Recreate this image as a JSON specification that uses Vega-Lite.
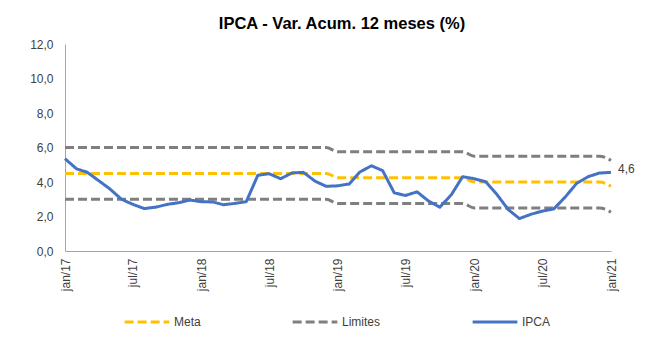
{
  "$schema": "https://vega.github.io/schema/vega-lite/v6.json",
  "width": 546,
  "height": 207,
  "autosize": {"type": "none"},
  "padding": {"left": 65, "top": 44, "right": 43, "bottom": 102},
  "background": "white",
  "config": {
    "locale": {"number": {"decimal": ",", "thousands": ".", "grouping": [3], "currency": ["R$", ""]}},
    "view": {"stroke": null},
    "font": "Liberation Sans",
    "axis": {"labelFont": "Liberation Sans", "labelColor": "#404040", "domainColor": "#A6A6A6", "grid": false, "ticks": false, "title": null},
    "axisY": {"labelOverlap": false, "labelFlush": false, "labelBound": false, "labelPadding": 12, "labelFontSize": 12}
  },
  "title": {"text": "IPCA - Var. Acum. 12 meses (%)", "fontSize": 16.5, "fontWeight": "bold", "color": "#000000", "font": "Liberation Sans", "anchor": "middle", "offset": 6, "dx": 4},
  "datasets": {
    "main": [
      {"d": "2017-01-01", "ipca": 5.35, "meta": 4.5, "sup": 6.0, "inf": 3.0},
      {"d": "2017-02-01", "ipca": 4.76, "meta": 4.5, "sup": 6.0, "inf": 3.0},
      {"d": "2017-03-01", "ipca": 4.57, "meta": 4.5, "sup": 6.0, "inf": 3.0},
      {"d": "2017-04-01", "ipca": 4.08, "meta": 4.5, "sup": 6.0, "inf": 3.0},
      {"d": "2017-05-01", "ipca": 3.6, "meta": 4.5, "sup": 6.0, "inf": 3.0},
      {"d": "2017-06-01", "ipca": 3.0, "meta": 4.5, "sup": 6.0, "inf": 3.0},
      {"d": "2017-07-01", "ipca": 2.71, "meta": 4.5, "sup": 6.0, "inf": 3.0},
      {"d": "2017-08-01", "ipca": 2.46, "meta": 4.5, "sup": 6.0, "inf": 3.0},
      {"d": "2017-09-01", "ipca": 2.54, "meta": 4.5, "sup": 6.0, "inf": 3.0},
      {"d": "2017-10-01", "ipca": 2.7, "meta": 4.5, "sup": 6.0, "inf": 3.0},
      {"d": "2017-11-01", "ipca": 2.8, "meta": 4.5, "sup": 6.0, "inf": 3.0},
      {"d": "2017-12-01", "ipca": 2.95, "meta": 4.5, "sup": 6.0, "inf": 3.0},
      {"d": "2018-01-01", "ipca": 2.86, "meta": 4.5, "sup": 6.0, "inf": 3.0},
      {"d": "2018-02-01", "ipca": 2.84, "meta": 4.5, "sup": 6.0, "inf": 3.0},
      {"d": "2018-03-01", "ipca": 2.68, "meta": 4.5, "sup": 6.0, "inf": 3.0},
      {"d": "2018-04-01", "ipca": 2.76, "meta": 4.5, "sup": 6.0, "inf": 3.0},
      {"d": "2018-05-01", "ipca": 2.86, "meta": 4.5, "sup": 6.0, "inf": 3.0},
      {"d": "2018-06-01", "ipca": 4.39, "meta": 4.5, "sup": 6.0, "inf": 3.0},
      {"d": "2018-07-01", "ipca": 4.48, "meta": 4.5, "sup": 6.0, "inf": 3.0},
      {"d": "2018-08-01", "ipca": 4.19, "meta": 4.5, "sup": 6.0, "inf": 3.0},
      {"d": "2018-09-01", "ipca": 4.53, "meta": 4.5, "sup": 6.0, "inf": 3.0},
      {"d": "2018-10-01", "ipca": 4.56, "meta": 4.5, "sup": 6.0, "inf": 3.0},
      {"d": "2018-11-01", "ipca": 4.05, "meta": 4.5, "sup": 6.0, "inf": 3.0},
      {"d": "2018-12-01", "ipca": 3.75, "meta": 4.5, "sup": 6.0, "inf": 3.0},
      {"d": "2019-01-01", "ipca": 3.78, "meta": 4.25, "sup": 5.75, "inf": 2.75},
      {"d": "2019-02-01", "ipca": 3.89, "meta": 4.25, "sup": 5.75, "inf": 2.75},
      {"d": "2019-03-01", "ipca": 4.58, "meta": 4.25, "sup": 5.75, "inf": 2.75},
      {"d": "2019-04-01", "ipca": 4.94, "meta": 4.25, "sup": 5.75, "inf": 2.75},
      {"d": "2019-05-01", "ipca": 4.66, "meta": 4.25, "sup": 5.75, "inf": 2.75},
      {"d": "2019-06-01", "ipca": 3.37, "meta": 4.25, "sup": 5.75, "inf": 2.75},
      {"d": "2019-07-01", "ipca": 3.22, "meta": 4.25, "sup": 5.75, "inf": 2.75},
      {"d": "2019-08-01", "ipca": 3.43, "meta": 4.25, "sup": 5.75, "inf": 2.75},
      {"d": "2019-09-01", "ipca": 2.89, "meta": 4.25, "sup": 5.75, "inf": 2.75},
      {"d": "2019-10-01", "ipca": 2.54, "meta": 4.25, "sup": 5.75, "inf": 2.75},
      {"d": "2019-11-01", "ipca": 3.27, "meta": 4.25, "sup": 5.75, "inf": 2.75},
      {"d": "2019-12-01", "ipca": 4.31, "meta": 4.25, "sup": 5.75, "inf": 2.75},
      {"d": "2020-01-01", "ipca": 4.19, "meta": 4.0, "sup": 5.5, "inf": 2.5},
      {"d": "2020-02-01", "ipca": 4.01, "meta": 4.0, "sup": 5.5, "inf": 2.5},
      {"d": "2020-03-01", "ipca": 3.3, "meta": 4.0, "sup": 5.5, "inf": 2.5},
      {"d": "2020-04-01", "ipca": 2.4, "meta": 4.0, "sup": 5.5, "inf": 2.5},
      {"d": "2020-05-01", "ipca": 1.88, "meta": 4.0, "sup": 5.5, "inf": 2.5},
      {"d": "2020-06-01", "ipca": 2.13, "meta": 4.0, "sup": 5.5, "inf": 2.5},
      {"d": "2020-07-01", "ipca": 2.31, "meta": 4.0, "sup": 5.5, "inf": 2.5},
      {"d": "2020-08-01", "ipca": 2.44, "meta": 4.0, "sup": 5.5, "inf": 2.5},
      {"d": "2020-09-01", "ipca": 3.14, "meta": 4.0, "sup": 5.5, "inf": 2.5},
      {"d": "2020-10-01", "ipca": 3.92, "meta": 4.0, "sup": 5.5, "inf": 2.5},
      {"d": "2020-11-01", "ipca": 4.31, "meta": 4.0, "sup": 5.5, "inf": 2.5},
      {"d": "2020-12-01", "ipca": 4.52, "meta": 4.0, "sup": 5.5, "inf": 2.5},
      {"d": "2021-01-01", "ipca": 4.56, "meta": 3.75, "sup": 5.25, "inf": 2.25}
    ],
    "last": [{"d": "2021-01-01", "v": 4.56}]
  },
  "data": {"name": "main"},
  "encoding": {
    "x": {
      "field": "d", "type": "temporal",
      "scale": {"type": "utc", "nice": false, "domain": [{"year": 2017, "month": 1, "date": 1, "utc": true}, {"year": 2021, "month": 1, "date": 1, "utc": true}]},
      "axis": {
        "values": [
          {"year": 2017, "month": 1, "date": 1, "utc": true}, {"year": 2017, "month": 7, "date": 1, "utc": true},
          {"year": 2018, "month": 1, "date": 1, "utc": true}, {"year": 2018, "month": 7, "date": 1, "utc": true},
          {"year": 2019, "month": 1, "date": 1, "utc": true}, {"year": 2019, "month": 7, "date": 1, "utc": true},
          {"year": 2020, "month": 1, "date": 1, "utc": true}, {"year": 2020, "month": 7, "date": 1, "utc": true},
          {"year": 2021, "month": 1, "date": 1, "utc": true}
        ],
        "labelExpr": "(utcFormat(datum.value, '%m') == '01' ? 'jan/' : 'jul/') + utcFormat(datum.value, '%y')",
        "labelAngle": -90, "labelFontSize": 12, "labelPadding": 7, "labelOverlap": false, "labelBound": false, "labelFlush": false
      }
    },
    "y": {"type": "quantitative", "scale": {"domain": [0, 12], "nice": false},
      "axis": {"values": [0, 2, 4, 6, 8, 10, 12], "format": ".1f", "labelOverlap": false, "tickCount": 7}}
  },
  "layer": [
    {
      "mark": {"type": "line", "strokeWidth": 3, "interpolate": "monotone"},
      "encoding": {
        "y": {"field": "sup", "type": "quantitative", "scale": {"domain": [0, 12], "nice": false},
          "axis": {"values": [0, 2, 4, 6, 8, 10, 12], "format": ".1f", "labelOverlap": false, "tickCount": 7}},
        "color": {"datum": "Limites", "type": "nominal", "scale": {"domain": ["Meta", "Limites", "IPCA"], "range": ["#FFC000", "#7F7F7F", "#4472C4"]},
          "legend": {"orient": "none", "legendX": 58, "legendY": 270, "direction": "horizontal", "title": null, "symbolType": "stroke", "symbolSize": 2000, "symbolStrokeWidth": 3, "clipHeight": 16, "columnPadding": 90, "labelFontSize": 12, "labelColor": "#404040", "labelOffset": 3}},
        "strokeDash": {"datum": "Limites", "type": "nominal", "scale": {"domain": ["Meta", "Limites", "IPCA"], "range": [[9, 4], [9, 4], [1, 0]]}}
      }
    },
    {
      "mark": {"type": "line", "strokeWidth": 3, "interpolate": "monotone"},
      "encoding": {
        "y": {"field": "inf", "type": "quantitative"},
        "color": {"datum": "Limites", "type": "nominal"},
        "strokeDash": {"datum": "Limites", "type": "nominal"}
      }
    },
    {
      "mark": {"type": "line", "strokeWidth": 3, "interpolate": "monotone"},
      "encoding": {
        "y": {"field": "meta", "type": "quantitative"},
        "color": {"datum": "Meta", "type": "nominal"},
        "strokeDash": {"datum": "Meta", "type": "nominal"}
      }
    },
    {
      "mark": {"type": "line", "strokeWidth": 3, "interpolate": "linear", "strokeJoin": "round"},
      "encoding": {
        "y": {"field": "ipca", "type": "quantitative"},
        "color": {"datum": "IPCA", "type": "nominal"},
        "strokeDash": {"datum": "IPCA", "type": "nominal"}
      }
    },
    {
      "data": {"name": "last"},
      "mark": {"type": "text", "align": "left", "dx": 7, "dy": -3, "fontSize": 12, "color": "#404040"},
      "encoding": {
        "y": {"field": "v", "type": "quantitative"},
        "text": {"field": "v", "type": "quantitative", "format": ".1f"}
      }
    }
  ]
}
